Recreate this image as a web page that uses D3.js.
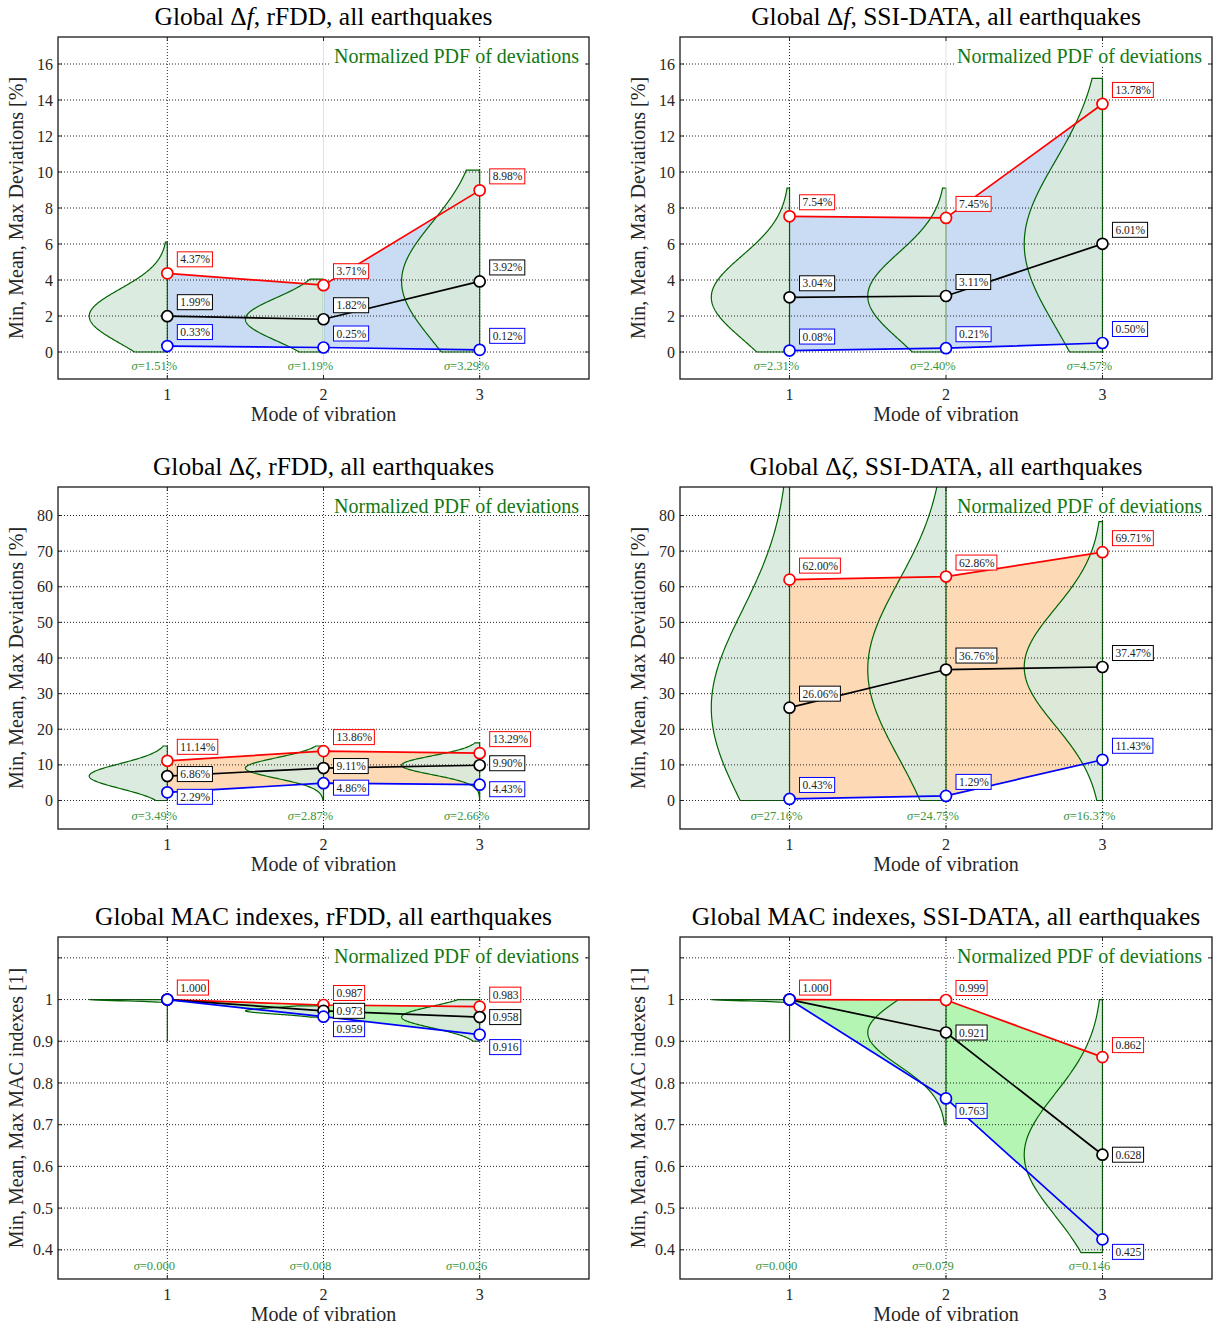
<!DOCTYPE html>
<html>
<head>
<meta charset="utf-8">
<script src="https://cdn.jsdelivr.net/npm/d3@7"></script>
<style>
  body { margin: 0; background: #fff; }
  svg { font-family: "Liberation Serif", "DejaVu Serif", serif; }
</style>
</head>
<body>
<svg id="chart" width="1213" height="1328"></svg>
<script>
// modes on the x axis
const modes = [1, 2, 3];

// Global delta f, rFDD
const dfRfddMax = [4.37, 3.71, 8.98];
const dfRfddMean = [1.99, 1.82, 3.92];
const dfRfddMin = [0.33, 0.25, 0.12];
const dfRfddSigma = [1.51, 1.19, 3.29];
const dfRfddPdfLow = [0, 0, 0];
const dfRfddPdfHigh = [6.1, 4.05, 10.1];

// Global delta f, SSI-DATA
const dfSsiMax = [7.54, 7.45, 13.78];
const dfSsiMean = [3.04, 3.11, 6.01];
const dfSsiMin = [0.08, 0.21, 0.50];
const dfSsiSigma = [2.31, 2.40, 4.57];
const dfSsiPdfLow = [0, 0, 0];
const dfSsiPdfHigh = [9.1, 9.1, 15.2];

// Global delta zeta, rFDD
const dzRfddMax = [11.14, 13.86, 13.29];
const dzRfddMean = [6.86, 9.11, 9.90];
const dzRfddMin = [2.29, 4.86, 4.43];
const dzRfddSigma = [3.49, 2.87, 2.66];
const dzRfddPdfLow = [0, 0, 0];
const dzRfddPdfHigh = [15.3, 15.3, 16.2];

// Global delta zeta, SSI-DATA
const dzSsiMax = [62.00, 62.86, 69.71];
const dzSsiMean = [26.06, 36.76, 37.47];
const dzSsiMin = [0.43, 1.29, 11.43];
const dzSsiSigma = [27.16, 24.75, 16.37];
const dzSsiPdfLow = [0, 0, 0];
const dzSsiPdfHigh = [100, 100, 78.3];

// Global MAC, rFDD
const macRfddMax = [1.000, 0.987, 0.983];
const macRfddMean = [1.000, 0.973, 0.958];
const macRfddMin = [1.000, 0.959, 0.916];
const macRfddSigma = [0.000, 0.008, 0.026];
const macRfddPdfLow = [0.9, 0.958, 0.9];
const macRfddPdfHigh = [1.0, 0.985, 1.0];

// Global MAC, SSI-DATA
const macSsiMax = [1.000, 0.999, 0.862];
const macSsiMean = [1.000, 0.921, 0.628];
const macSsiMin = [1.000, 0.763, 0.425];
const macSsiSigma = [0.000, 0.079, 0.146];
const macSsiPdfLow = [0.9, 0.7, 0.393];
const macSsiPdfHigh = [1.0, 1.0, 1.0];

// tick values and labels (the 1.1 grid line carries no label)
const pctTicksF = [0, 2, 4, 6, 8, 10, 12, 14, 16];
const pctTicksZ = [0, 10, 20, 30, 40, 50, 60, 70, 80];
const macTicks = [0.4, 0.5, 0.6, 0.7, 0.8, 0.9, 1, 1.1];
const macTickLabels = ["0.4", "0.5", "0.6", "0.7", "0.8", "0.9", "1", ""];

const pctFmt = d => d3.format(".2f")(d) + "%";
const macFmt = d3.format(".3f");

const panels = [
  { title: ["Global Δ", "f", ", rFDD, all earthquakes"], col: 0, row: 0,
    max: dfRfddMax, mean: dfRfddMean, min: dfRfddMin, sigma: dfRfddSigma, lo: dfRfddPdfLow, hi: dfRfddPdfHigh,
    ydom: [-1.5, 17.5], ticks: pctTicksF, tickLabels: pctTicksF.map(String), fmt: pctFmt, unit: "%",
    band: "#c9dcf3", dy: [-14, -14, -14], greyMid: true, ylab: "Min, Mean, Max Deviations [%]" },
  { title: ["Global Δ", "f", ", SSI-DATA, all earthquakes"], col: 1, row: 0,
    max: dfSsiMax, mean: dfSsiMean, min: dfSsiMin, sigma: dfSsiSigma, lo: dfSsiPdfLow, hi: dfSsiPdfHigh,
    ydom: [-1.5, 17.5], ticks: pctTicksF, tickLabels: pctTicksF.map(String), fmt: pctFmt, unit: "%",
    band: "#c9dcf3", dy: [-14, -14, -14], greyMid: true, ylab: "Min, Mean, Max Deviations [%]" },
  { title: ["Global Δ", "ζ", ", rFDD, all earthquakes"], col: 0, row: 1,
    max: dzRfddMax, mean: dzRfddMean, min: dzRfddMin, sigma: dzRfddSigma, lo: dzRfddPdfLow, hi: dzRfddPdfHigh,
    ydom: [-8, 88], ticks: pctTicksZ, tickLabels: pctTicksZ.map(String), fmt: pctFmt, unit: "%",
    band: "#fdd9b6", dy: [-14, -2, 4.5], ylab: "Min, Mean, Max Deviations [%]" },
  { title: ["Global Δ", "ζ", ", SSI-DATA, all earthquakes"], col: 1, row: 1,
    max: dzSsiMax, mean: dzSsiMean, min: dzSsiMin, sigma: dzSsiSigma, lo: dzSsiPdfLow, hi: dzSsiPdfHigh,
    ydom: [-8, 88], ticks: pctTicksZ, tickLabels: pctTicksZ.map(String), fmt: pctFmt, unit: "%",
    band: "#fdd9b6", dy: [-14, -14, -14], ylab: "Min, Mean, Max Deviations [%]" },
  { title: ["Global MAC indexes, rFDD, all earthquakes"], col: 0, row: 2,
    max: macRfddMax, mean: macRfddMean, min: macRfddMin, sigma: macRfddSigma, lo: macRfddPdfLow, hi: macRfddPdfHigh,
    ydom: [0.33, 1.15], ticks: macTicks, tickLabels: macTickLabels, fmt: macFmt, unit: "",
    band: "#b4f5b4", dy: [-12, 0, 12.5], ylab: "Min, Mean, Max MAC indexes [1]" },
  { title: ["Global MAC indexes, SSI-DATA, all earthquakes"], col: 1, row: 2,
    max: macSsiMax, mean: macSsiMean, min: macSsiMin, sigma: macSsiSigma, lo: macSsiPdfLow, hi: macSsiPdfHigh,
    ydom: [0.33, 1.15], ticks: macTicks, tickLabels: macTickLabels, fmt: macFmt, unit: "",
    band: "#b4f5b4", dy: [-12, 0, 12.5], ylab: "Min, Mean, Max MAC indexes [1]" },
];

const colX = [58, 680], colW = [531, 532];
const rowY = [37, 487, 937], plotH = 342;
const svg = d3.select("#chart");
const defs = svg.append("defs");

panels.forEach((p, i) => {
  const x0 = colX[p.col], w = colW[p.col], y0 = rowY[p.row];
  const x = d3.scaleLinear().domain([0.3, 3.7]).range([x0, x0 + w]);
  const y = d3.scaleLinear().domain(p.ydom).range([y0 + plotH, y0]);
  const g = svg.append("g");

  defs.append("clipPath").attr("id", "clip" + i)
    .append("rect").attr("x", x0).attr("y", y0).attr("width", w).attr("height", plotH);
  const plot = g.append("g").attr("clip-path", `url(#clip${i})`);

  // band between min and max
  const band = d3.area()
    .x((d, j) => x(modes[j]))
    .y0((d, j) => y(p.min[j]))
    .y1((d, j) => y(p.max[j]));
  plot.append("path").datum(modes).attr("d", band).attr("fill", p.band);

  // half violins (normalized gaussian pdf, peak width 0.5)
  modes.forEach((m, j) => {
    const s = Math.max(p.sigma[j], 0.003); // sigma shown as 0.000 is tiny but not zero
    const mu = p.mean[j];
    const vals = d3.range(0, 201).map(k => p.lo[j] + (p.hi[j] - p.lo[j]) * k / 200);
    const pts = [[m, p.lo[j]]].concat(vals.map(v => [m - 0.5 * Math.exp(-0.5 * ((v - mu) / s) ** 2), v]), [[m, p.hi[j]]]);
    const line = d3.line().x(d => x(d[0])).y(d => y(d[1]));
    plot.append("path").attr("d", line(pts) + "Z")
      .attr("fill", "#d8e9db").attr("fill-opacity", 0.9)
      .attr("stroke", "#006400").attr("stroke-width", 1.2);
  });

  // grid
  const grid = g.append("g").attr("stroke-width", 1);
  grid.selectAll(".hg").data(p.ticks).join("line")
    .attr("x1", x0).attr("x2", x0 + w)
    .attr("y1", d => y(d)).attr("y2", d => y(d))
    .attr("stroke", "#262626").attr("stroke-dasharray", "1,2");
  grid.selectAll(".vg").data(modes).join("line")
    .attr("x1", d => x(d)).attr("x2", d => x(d))
    .attr("y1", y0).attr("y2", y0 + plotH)
    .attr("stroke", d => (p.greyMid && d === 2) ? "#e2e2e2" : "#262626")
    .attr("stroke-dasharray", d => (p.greyMid && d === 2) ? null : "1,2");

  // inward ticks
  const tk = g.append("g").attr("stroke", "#262626").attr("stroke-width", 1);
  p.ticks.forEach(t => {
    tk.append("line").attr("x1", x0).attr("x2", x0 + 4).attr("y1", y(t)).attr("y2", y(t));
    tk.append("line").attr("x1", x0 + w).attr("x2", x0 + w - 4).attr("y1", y(t)).attr("y2", y(t));
  });
  modes.forEach(m => {
    tk.append("line").attr("x1", x(m)).attr("x2", x(m)).attr("y1", y0 + plotH).attr("y2", y0 + plotH - 4);
    tk.append("line").attr("x1", x(m)).attr("x2", x(m)).attr("y1", y0).attr("y2", y0 + 4);
  });

  // legend-like text
  const leg = g.append("text")
    .attr("x", x0 + w - 10).attr("y", y0 + 26)
    .attr("text-anchor", "end").attr("font-size", 20).attr("fill", "#127812")
    .text("Normalized PDF of deviations");
  const lb = leg.node().getBBox();
  g.insert("rect", () => leg.node())
    .attr("x", lb.x - 3).attr("y", lb.y + 2).attr("width", lb.width + 9).attr("height", lb.height - 4)
    .attr("fill", "#fff");

  // sigma labels
  g.selectAll(".sig").data(modes).join("text")
    .attr("x", d => x(d) - 13).attr("y", y0 + plotH - 9)
    .attr("text-anchor", "middle").attr("font-size", 12.5).attr("fill", "#3a963a")
    .each(function (d, j) {
      const t = d3.select(this);
      t.append("tspan").attr("font-style", "italic").text("σ");
      t.append("tspan").text("=" + (p.unit ? d3.format(".2f")(p.sigma[j]) + "%" : d3.format(".3f")(p.sigma[j])));
    });

  // series lines and markers
  const series = [
    { vals: p.max, color: "#ff0000" },
    { vals: p.mean, color: "#000000" },
    { vals: p.min, color: "#0000ff" },
  ];
  const ln = d3.line().x((d, j) => x(modes[j])).y(d => y(d));
  series.forEach(s => {
    g.append("path").datum(s.vals).attr("d", ln)
      .attr("fill", "none").attr("stroke", s.color).attr("stroke-width", 1.7);
  });
  series.forEach(s => {
    g.selectAll(null).data(s.vals).join("circle")
      .attr("cx", (d, j) => x(modes[j])).attr("cy", d => y(d)).attr("r", 5.5)
      .attr("fill", "#fff").attr("stroke", s.color).attr("stroke-width", 1.7);
  });

  // value labels
  series.forEach((s, k) => {
    s.vals.forEach((v, j) => {
      if (k > 0 && p.fmt(v) === p.fmt(p.max[j])) return; // coincident values carry one label
      const lx = x(modes[j]) + 10, ly = y(v) + p.dy[k];
      const t = g.append("text").attr("x", lx + 3).attr("y", ly)
        .attr("dy", "0.35em").attr("font-size", 11.5).attr("fill", "#222").text(p.fmt(v));
      const b = t.node().getBBox();
      g.insert("rect", () => t.node())
        .attr("x", lx).attr("y", ly - 7.5).attr("width", b.width + 5).attr("height", 15)
        .attr("fill", "#fff").attr("stroke", s.color).attr("stroke-width", 1);
    });
  });

  // frame
  g.append("rect").attr("x", x0).attr("y", y0).attr("width", w).attr("height", plotH)
    .attr("fill", "none").attr("stroke", "#1a1a1a").attr("stroke-width", 1.3);

  // axis tick labels
  g.selectAll(".xt").data(modes).join("text")
    .attr("x", d => x(d)).attr("y", y0 + plotH + 21)
    .attr("text-anchor", "middle").attr("font-size", 16).attr("fill", "#262626").text(d => d);
  g.selectAll(".yt").data(p.ticks).join("text")
    .attr("x", x0 - 5).attr("y", d => y(d)).attr("dy", "0.35em")
    .attr("text-anchor", "end").attr("font-size", 16).attr("fill", "#262626")
    .text((d, k) => p.tickLabels[k]);

  // axis titles
  g.append("text").attr("x", x0 + w / 2).attr("y", y0 + plotH + 42)
    .attr("text-anchor", "middle").attr("font-size", 20).attr("fill", "#262626").text("Mode of vibration");
  g.append("text")
    .attr("transform", `translate(${x0 - 35},${y0 + plotH / 2}) rotate(-90)`)
    .attr("text-anchor", "middle").attr("font-size", 20).attr("fill", "#262626").text(p.ylab);

  // title
  const tt = g.append("text").attr("x", x0 + w / 2).attr("y", y0 - 12)
    .attr("text-anchor", "middle").attr("font-size", 25.5).attr("fill", "#000");
  tt.append("tspan").text(p.title[0]);
  if (p.title.length > 1) {
    tt.append("tspan").attr("font-style", "italic").text(p.title[1]);
    tt.append("tspan").text(p.title[2]);
  }
});
</script>
</body>
</html>
